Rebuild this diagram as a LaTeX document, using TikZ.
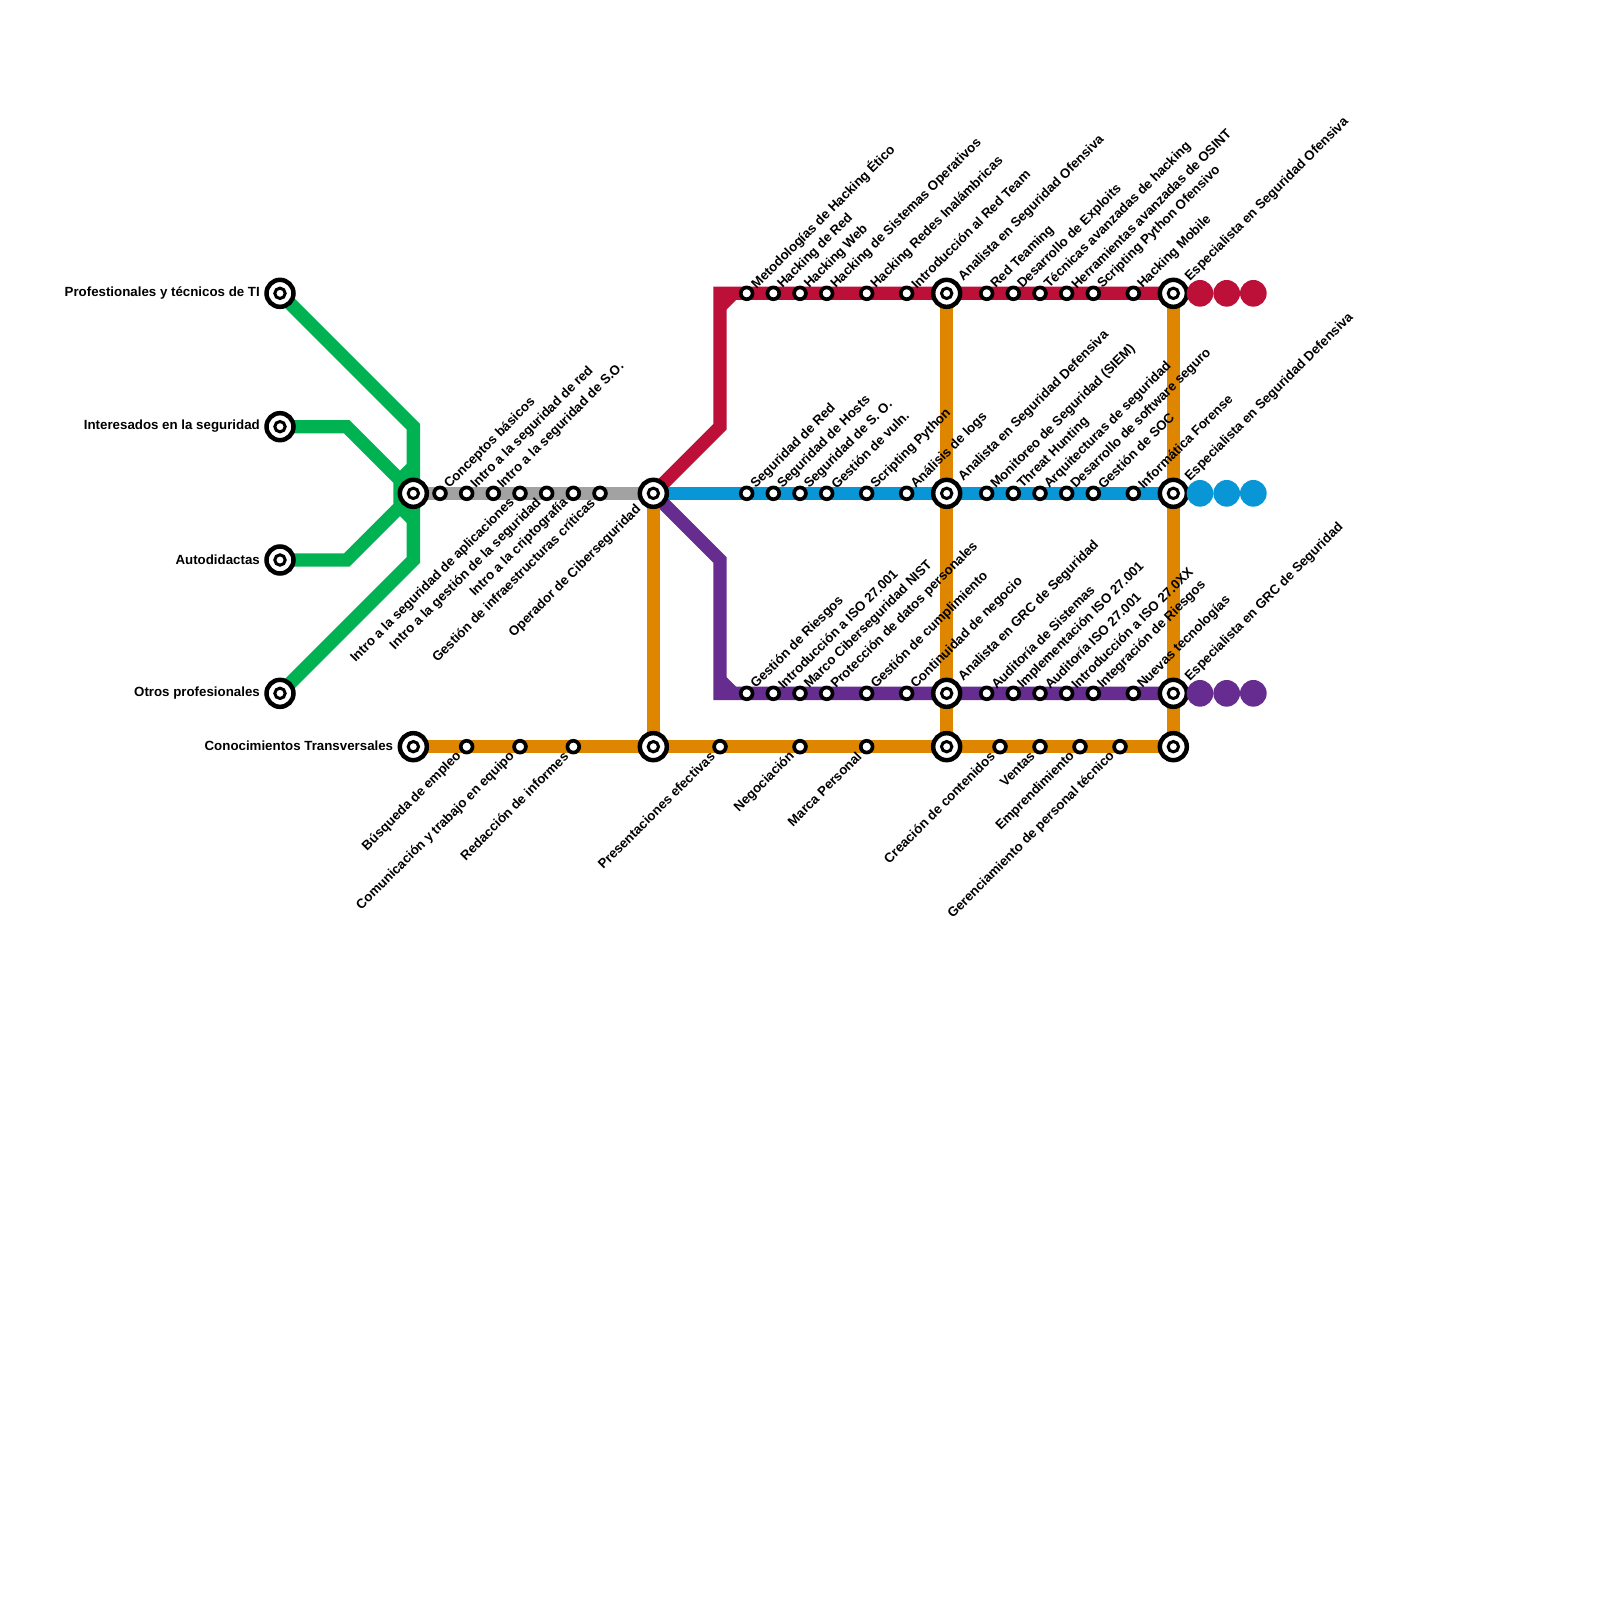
\documentclass[tikz,border=0pt]{standalone}
\usepackage{fontspec}
\setmainfont{Liberation Sans}
\usetikzlibrary{backgrounds}
\definecolor{linegreen}{HTML}{00B251}
\definecolor{linered}{HTML}{BD1038}
\definecolor{lineblue}{HTML}{0896D7}
\definecolor{linepurple}{HTML}{662C90}
\definecolor{lineorange}{HTML}{DF8600}
\definecolor{linegray}{HTML}{A2A2A2}
\tikzset{
  hub/.style={circle, draw=black, line width=4.5pt, fill=white, minimum size=27pt, inner sep=0pt, outer sep=0pt,
    path picture={\draw[black, line width=3pt] (path picture bounding box.center) circle (5.2pt);}},
  stopdot/.style={circle, draw=black, line width=3.7pt, fill=white, minimum size=11.8pt, inner sep=0pt, outer sep=0pt},
  enddot/.style={circle, minimum size=26.67pt, inner sep=0pt, outer sep=0pt},
  metro/.style={line width=13.33pt, line join=miter},
  txt/.style={font=\fontsize{13.3}{15}\selectfont\bfseries, inner sep=0pt},
  uplabel/.style={txt, rotate=45, anchor=west, xshift=9.5pt},
  downlabel/.style={txt, rotate=45, anchor=east, xshift=-10.4pt},
  uphub/.style={txt, rotate=45, anchor=west, xshift=20pt},
  downhub/.style={txt, rotate=45, anchor=east, xshift=-20pt},
  lefthub/.style={txt, anchor=east, xshift=-20pt, yshift=0.5pt}
}
\begin{document}
\begin{tikzpicture}[x=26.667pt, y=-26.667pt]
  \useasboundingbox (0,0) rectangle (60,60);

  % Hubs
  \node[hub] (prof) at (10.5,11) {};
  \node[hub] (inter) at (10.5,16) {};
  \node[hub] (auto) at (10.5,21) {};
  \node[hub] (otros) at (10.5,26) {};
  \node[hub] (base) at (15.5,18.5) {};
  \node[hub] (trans) at (15.5,28) {};
  \node[hub] (oper) at (24.5,18.5) {};
  \node[hub] (opertrans) at (24.5,28) {};
  \node[hub] (anaof) at (35.5,11) {};
  \node[hub] (anadef) at (35.5,18.5) {};
  \node[hub] (anagrc) at (35.5,26) {};
  \node[hub] (anatrans) at (35.5,28) {};
  \node[hub] (espof) at (44,11) {};
  \node[hub] (espdef) at (44,18.5) {};
  \node[hub] (espgrc) at (44,26) {};
  \node[hub] (esptrans) at (44,28) {};

  % Bends
  \coordinate (gA) at (15.5,16);
  \coordinate (gB) at (13,16);
  \coordinate (gC) at (15,18);
  \coordinate (gD) at (15,19);
  \coordinate (gE) at (13,21);
  \coordinate (gF) at (15.5,21);
  \coordinate (gG) at (15.5,17.5);
  \coordinate (gH) at (15.5,19.5);
  \coordinate (rA) at (27,16);
  \coordinate (rB) at (27,11);
  \coordinate (rC) at (27,11.5);
  \coordinate (rD) at (27.5,11);
  \coordinate (pA) at (27,21);
  \coordinate (pB) at (27,26);
  \coordinate (pC) at (27,25.5);
  \coordinate (pD) at (27.5,26);

  % End dots
  \foreach \x [count=\i] in {45,46,47} {
    \node[enddot, fill=linered] (reddot\i) at (\x,11) {};
    \node[enddot, fill=lineblue] (bluedot\i) at (\x,18.5) {};
    \node[enddot, fill=linepurple] (purpledot\i) at (\x,26) {};
  }

  % Lines
  \begin{scope}[on background layer]
    \draw[metro, linegreen] (prof.center) -- (gA) -- (base.center);
    \draw[metro, linegreen] (inter.center) -- (gB) -- (gC) -- (gD) -- (gE) -- (auto.center);
    \draw[metro, linegreen] (otros.center) -- (gF) -- (base.center);
    \draw[metro, linegreen] (gG) -- (gC);
    \draw[metro, linegreen] (gH) -- (gD);
    \draw[metro, linegray] (base.center) -- (oper.center);
    \draw[metro, linered] (oper.center) -- (rA) -- (rB) -- (anaof.center) -- (espof.center);
    \draw[metro, linered] (rC) -- (rD);
    \draw[metro, lineblue] (oper.center) -- (anadef.center) -- (espdef.center);
    \draw[metro, linepurple] (oper.center) -- (pA) -- (pB) -- (anagrc.center) -- (espgrc.center);
    \draw[metro, linepurple] (pC) -- (pD);
    \draw[metro, lineorange] (trans.center) -- (opertrans.center) -- (anatrans.center) -- (esptrans.center);
    \draw[metro, lineorange] (oper.center) -- (opertrans.center);
    \draw[metro, lineorange] (anaof.center) -- (anatrans.center);
    \draw[metro, lineorange] (espof.center) -- (esptrans.center);
  \end{scope}

  % Gray stops
  \foreach \x/\txt [count=\i] in {16.5/Conceptos básicos, 17.5/Intro a la seguridad de red, 18.5/Intro a la seguridad de S.O.} {
    \node[stopdot] (grayup\i) at (\x,18.5) {};
    \node[uplabel] (grayuptxt\i) at (\x,18.5) {\txt};
  }
  \foreach \x/\txt [count=\i] in {19.5/Intro a la seguridad de aplicaciones, 20.5/Intro a la gestión de la seguridad, 21.5/Intro a la criptografía, 22.5/Gestión de infraestructuras críticas} {
    \node[stopdot] (graydown\i) at (\x,18.5) {};
    \node[downlabel] (graydowntxt\i) at (\x,18.5) {\txt};
  }

  % Red stops
  \foreach \x/\txt [count=\i] in {28/Metodologías de Hacking Ético, 29/Hacking de Red, 30/Hacking Web, 31/Hacking de Sistemas Operativos, 32.5/Hacking Redes Inalámbricas, 34/Introducción al Red Team, 37/Red Teaming, 38/Desarrollo de Exploits, 39/Técnicas avanzadas de hacking, 40/Herramientas avanzadas de OSINT, 41/Scripting Python Ofensivo, 42.5/Hacking Mobile} {
    \node[stopdot] (red\i) at (\x,11) {};
    \node[uplabel] (redtxt\i) at (\x,11) {\txt};
  }

  % Blue stops
  \foreach \x/\txt [count=\i] in {28/Seguridad de Red, 29/Seguridad de Hosts, 30/Seguridad de S. O., 31/Gestión de vuln., 32.5/Scripting Python, 34/Análisis de logs, 37/Monitoreo de Seguridad (SIEM), 38/Threat Hunting, 39/Arquitecturas de seguridad, 40/Desarrollo de software seguro, 41/Gestión de SOC, 42.5/Informática Forense} {
    \node[stopdot] (blue\i) at (\x,18.5) {};
    \node[uplabel] (bluetxt\i) at (\x,18.5) {\txt};
  }

  % Purple stops
  \foreach \x/\txt [count=\i] in {28/Gestión de Riesgos, 29/Introducción a ISO 27.001, 30/Marco Ciberseguridad NIST, 31/Protección de datos personales, 32.5/Gestión de cumplimiento, 34/Continuidad de negocio, 37/Auditoría de Sistemas, 38/Implementación ISO 27.001, 39/Auditoría ISO 27.001, 40/Introducción a ISO 27.0XX, 41/Integración de Riesgos, 42.5/Nuevas tecnologías} {
    \node[stopdot] (purple\i) at (\x,26) {};
    \node[uplabel] (purpletxt\i) at (\x,26) {\txt};
  }

  % Orange stops
  \foreach \x/\txt [count=\i] in {17.5/Búsqueda de empleo, 19.5/Comunicación y trabajo en equipo, 21.5/Redacción de informes, 27/Presentaciones efectivas, 30/Negociación, 32.5/Marca Personal, 37.5/Creación de contenidos, 39/Ventas, 40.5/Emprendimiento, 42/Gerenciamiento de personal técnico} {
    \node[stopdot] (orange\i) at (\x,28) {};
    \node[downlabel] (orangetxt\i) at (\x,28) {\txt};
  }

  % Hub labels
  \node[lefthub] (proftxt) at (prof) {Profestionales y técnicos de TI};
  \node[lefthub] (intertxt) at (inter) {Interesados en la seguridad};
  \node[lefthub] (autotxt) at (auto) {Autodidactas};
  \node[lefthub] (otrostxt) at (otros) {Otros profesionales};
  \node[lefthub] (transtxt) at (trans) {Conocimientos Transversales};
  \node[downhub] (opertxt) at (oper) {Operador de Ciberseguridad};
  \node[uphub] (anaoftxt) at (anaof) {Analista en Seguridad Ofensiva};
  \node[uphub] (anadeftxt) at (anadef) {Analista en Seguridad Defensiva};
  \node[uphub] (anagrctxt) at (anagrc) {Analista en GRC de Seguridad};
  \node[uphub] (espoftxt) at (espof) {Especialista en Seguridad Ofensiva};
  \node[uphub] (espdeftxt) at (espdef) {Especialista en Seguridad Defensiva};
  \node[uphub] (espgrctxt) at (espgrc) {Especialista en GRC de Seguridad};
\end{tikzpicture}
\end{document}
